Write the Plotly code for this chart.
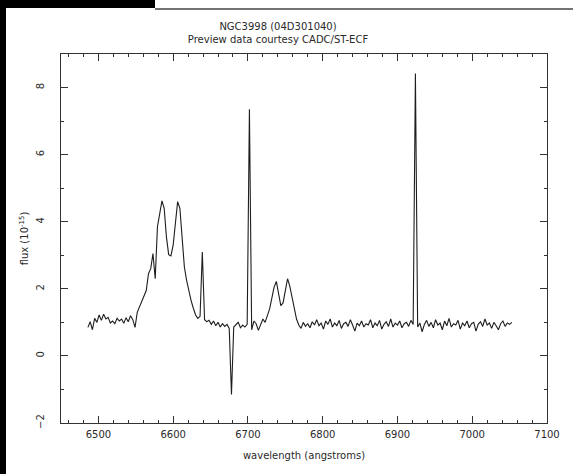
import plotly.graph_objects as go

wavelength = [
    6486, 6489, 6492, 6495, 6498, 6501, 6504, 6507, 6510, 6513,
    6516, 6519, 6522, 6525, 6528, 6531, 6534, 6537, 6540, 6543,
    6546, 6549, 6552, 6555, 6558, 6561, 6564, 6567, 6570, 6573,
    6576, 6579, 6582, 6585, 6588, 6591, 6594, 6597, 6600, 6603,
    6606, 6609, 6612, 6615, 6618, 6621, 6624, 6627, 6630, 6633,
    6636, 6639, 6642, 6645, 6648, 6651, 6654, 6657, 6660, 6663,
    6666, 6669, 6672, 6675, 6678, 6681, 6684, 6687, 6690, 6693,
    6696, 6699, 6702, 6705, 6708, 6711, 6714, 6717, 6720, 6723,
    6726, 6729, 6732, 6735, 6738, 6741, 6744, 6747, 6750, 6753,
    6756, 6759, 6762, 6765, 6768, 6771, 6774, 6777, 6780, 6783,
    6786, 6789, 6792, 6795, 6798, 6801, 6804, 6807, 6810, 6813,
    6816, 6819, 6822, 6825, 6828, 6831, 6834, 6837, 6840, 6843,
    6846, 6849, 6852, 6855, 6858, 6861, 6864, 6867, 6870, 6873,
    6876, 6879, 6882, 6885, 6888, 6891, 6894, 6897, 6900, 6903,
    6906, 6909, 6912, 6915, 6918, 6921, 6924, 6927, 6930, 6933,
    6936, 6939, 6942, 6945, 6948, 6951, 6954, 6957, 6960, 6963,
    6966, 6969, 6972, 6975, 6978, 6981, 6984, 6987, 6990, 6993,
    6996, 6999, 7002, 7005, 7008, 7011, 7014, 7017, 7020, 7023,
    7026, 7029, 7032, 7035, 7038, 7041, 7044, 7047, 7050, 7053,
]

flux = [
    0.85, 1.02, 0.78, 1.12, 1.00, 1.22, 1.06, 1.24, 1.10, 1.15,
    0.98, 1.04, 0.96, 1.12, 1.04, 1.10, 0.97, 1.14, 1.02, 1.20,
    1.08, 0.85, 1.30, 1.45, 1.60, 1.75, 1.95, 2.45, 2.60, 3.05,
    2.30, 3.85, 4.25, 4.62, 4.40, 3.55, 3.02, 2.98, 3.30, 4.00,
    4.60, 4.40, 3.50, 2.65, 2.25, 1.90, 1.65, 1.42, 1.22, 1.12,
    1.18, 3.10, 1.08, 1.02, 1.06, 0.94, 1.04, 0.90, 1.00, 0.86,
    0.96, 0.88, 0.94, 0.82, -1.15, 0.86, 0.92, 1.00, 0.84, 0.92,
    0.86, 0.94, 7.35, 0.78, 1.04, 0.96, 0.76, 0.92, 1.10, 1.00,
    1.22, 1.40, 1.72, 2.05, 2.22, 1.85, 1.50, 1.58, 2.00, 2.30,
    2.08, 1.72, 1.35, 1.10, 0.92, 0.82, 1.00, 0.88, 0.96, 0.84,
    1.02, 0.92, 1.08, 0.90, 0.98, 0.80, 1.04, 0.94, 1.10, 0.86,
    0.98, 0.90, 1.06, 0.82, 0.96, 1.00, 0.88, 1.08, 0.92, 0.74,
    0.98, 0.90, 1.04, 0.86, 0.96, 0.92, 1.08, 0.84, 0.98, 0.90,
    1.06, 0.80, 0.94, 1.02, 0.88, 1.10, 0.86, 0.98, 0.92, 1.04,
    0.84, 0.96, 1.00, 0.88, 1.06, 0.94, 8.42, 0.86, 0.98, 0.72,
    0.94, 1.06, 0.88, 1.00, 0.84, 1.08, 0.92, 0.98, 0.78, 1.04,
    0.90, 1.12, 0.86, 0.96, 0.92, 1.06, 0.80, 0.98, 0.90, 1.04,
    0.84, 0.96, 1.00, 0.74, 0.94, 1.02, 0.88, 1.10, 0.92, 0.98,
    0.82, 1.00, 0.90, 0.78, 0.96, 1.04, 0.88, 0.98, 0.94, 1.00,
]

title_lines = ["NGC3998 (04D301040)", "Preview data courtesy CADC/ST-ECF"]
x_title = "wavelength (angstroms)"
y_title = "flux (10<sup>-15</sup>)"
x_ticks = [6500, 6600, 6700, 6800, 6900, 7000, 7100]
y_ticks = [-2, 0, 2, 4, 6, 8]

W, H = 573, 474
ML, MR, MT, MB = 61, 26, 54, 51
PW, PH = W - ML - MR, H - MT - MB


def px(x):
    return (x - ML) / PW


def py(y):
    return (H - MB - y) / PH


font = "DejaVu Sans, Liberation Sans, sans-serif"
ink = "#2a2a2a"

fig = go.Figure()
fig.add_trace(go.Scatter(
    x=wavelength, y=flux, mode="lines",
    line=dict(color="#1e1e1e", width=1.1),
    hoverinfo="skip", showlegend=False,
))

axis_common = dict(
    showline=True, linecolor="#333", linewidth=1, mirror="ticks",
    ticks="inside", tickcolor="#333", ticklen=7, tickwidth=1,
    showgrid=False, zeroline=False,
    tickfont=dict(family=font, size=10, color=ink),
)

fig.update_layout(
    width=W, height=H,
    margin=dict(l=ML, r=MR, t=MT, b=MB),
    paper_bgcolor="white", plot_bgcolor="white",
    title=dict(
        text="<br>".join(title_lines),
        font=dict(family=font, size=10, color=ink),
        x=px(278), xref="paper", xanchor="center",
        y=1 - 30 / H, yref="container", yanchor="top",
    ),
    xaxis=dict(
        range=[6450, 7100], tickmode="array", tickvals=x_ticks,
        minor=dict(dtick=20, tick0=6500, ticks="inside", ticklen=3, tickcolor="#333"),
        title=dict(text=x_title, font=dict(family=font, size=10, color=ink), standoff=12),
        ticklabelstandoff=2,
        **axis_common,
    ),
    yaxis=dict(
        range=[-2, 9], tickmode="array", tickvals=y_ticks,
        minor=dict(dtick=1, tick0=0, ticks="inside", ticklen=3, tickcolor="#333"),
        tickangle=-90,
        title=dict(text=y_title, font=dict(family=font, size=10, color=ink), standoff=4),
        ticklabelstandoff=12,
        **axis_common,
    ),
)

# screenshot frame artefacts (dark band top-left, left strip, top rule)
fig.add_shape(type="rect", xref="paper", yref="paper",
              x0=px(0), x1=px(155), y0=py(0), y1=py(8),
              fillcolor="black", line_width=0, layer="above")
fig.add_shape(type="rect", xref="paper", yref="paper",
              x0=px(0), x1=px(6), y0=py(0), y1=py(H),
              fillcolor="black", line_width=0, layer="above")
fig.add_shape(type="line", xref="paper", yref="paper",
              x0=px(155), x1=px(W), y0=py(9), y1=py(9),
              line=dict(color="#444", width=1.5), layer="above")

fig.write_html("out.html")
